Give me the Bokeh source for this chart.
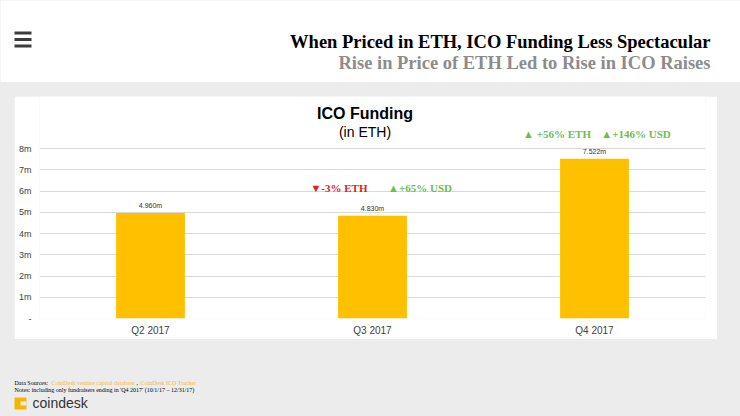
from bokeh.plotting import figure
from bokeh.layouts import column
from bokeh.models import (Range1d, FactorRange, Label, LabelSet, ColumnDataSource, FixedTicker)
from bokeh.core.properties import value
from bokeh.embed import file_html
from bokeh.resources import INLINE

# ---------------- data ----------------
quarters = ["Q2 2017", "Q3 2017", "Q4 2017"]
funding_eth_m = [4.960, 4.830, 7.522]
value_labels = ["4.960m", "4.830m", "7.522m"]
y_ticks = [0, 1, 2, 3, 4, 5, 6, 7, 8]
y_tick_labels = ["-", "1m", "2m", "3m", "4m", "5m", "6m", "7m", "8m"]

title_text = "When Priced in ETH, ICO Funding Less Spectacular"
subtitle_text = "Rise in Price of ETH Led to Rise in ICO Raises"
chart_title = "ICO Funding"
chart_subtitle = "(in ETH)"
notes_text = "Notes: including only fundraisers ending in 'Q4 2017' (10/1/17 \u2013 12/31/17)"

SERIF = "Liberation Serif"
SANS = "Liberation Sans"
GREY = "#ececec"

W, H = 740, 416
HEADER_H = 82
PANEL_L, PANEL_T, PANEL_R, PANEL_B = 14, 96, 717, 339
FOOT_H = H - PANEL_B
FL, FR, FB = 39, 705, 318          # chart frame left / right / bottom (page px)
PX_PER_M = 21.25


def plain_fig(w, h, y_top, fill):
    f = figure(width=w, height=h, x_range=Range1d(0, w), y_range=Range1d(y_top + h, y_top),
               x_axis_type=None, y_axis_type=None, output_backend="svg",
               toolbar_location=None, min_border=0, min_border_left=0, min_border_right=0,
               min_border_top=0, min_border_bottom=0, frame_align=False)
    f.grid.visible = False
    f.outline_line_color = None
    f.background_fill_color = fill
    f.border_fill_color = fill
    return f


def text(f, t, x, y, size, color="#000000", font=SANS, style="normal", align="center",
         baseline="middle", units="data"):
    f.add_layout(Label(x=x, y=y, x_units=units, y_units=units, text=t,
                       text_font=font, text_font_size=size, text_color=color,
                       text_font_style=style, text_align=align, text_baseline=baseline))


# ---------------- header ----------------
header = plain_fig(W, HEADER_H, 0, "white")
header.quad(left=[14, 14, 14], right=[31, 31, 31], top=[31, 37.5, 44], bottom=[34, 40.5, 47],
            fill_color="#3c3c3c", line_color=None)
text(header, title_text, 710, 41, "18.5px", "#000000", SERIF, "bold", "right")
text(header, subtitle_text, 710, 62, "18.5px", "#8c8c8c", SERIF, "bold", "right")

# ---------------- chart panel ----------------
PW, PH = PANEL_R - PANEL_L, PANEL_B - PANEL_T
frame_h = FB - PANEL_T
p = figure(width=PW, height=PH,
           x_range=FactorRange(*quarters, range_padding=0),
           y_range=Range1d(0, frame_h / PX_PER_M),
           output_backend="svg", toolbar_location=None,
           min_border_left=FL - PANEL_L, min_border_top=0,
           min_border_right=PANEL_R - FR, min_border_bottom=PANEL_B - FB,
           margin=(PANEL_T - HEADER_H, W - PANEL_R, 0, PANEL_L), frame_align=False)
p.border_fill_color = "white"
p.background_fill_color = "white"
p.outline_line_color = None

for ax in (p.xaxis, p.yaxis):
    ax.major_tick_line_color = None
    ax.minor_tick_line_color = None
    ax.major_tick_out = 0
    ax.major_tick_in = 0
    ax.minor_tick_out = 0
    ax.minor_tick_in = 0
    ax.axis_line_color = None
    ax.major_label_text_font = SANS
    ax.major_label_text_color = "#404040"

p.xaxis.major_label_text_font_size = "10px"
p.xaxis.major_label_standoff = 6

p.yaxis.ticker = FixedTicker(ticks=y_ticks)
p.yaxis.major_label_overrides = {t: l for t, l in zip(y_ticks, y_tick_labels)}
p.yaxis.major_label_text_font_size = "9px"
p.yaxis.major_label_standoff = 8

p.xgrid.grid_line_color = None
p.ygrid.grid_line_color = "#d9d9d9"
p.ygrid.grid_line_width = 1

src = ColumnDataSource(dict(q=quarters, v=funding_eth_m, lbl=value_labels))
p.vbar(x="q", top="v", width=0.31, source=src, fill_color="#FFC000", line_color=None)
p.add_layout(LabelSet(x="q", y="v", text="lbl", source=src, text_align="center",
                      text_baseline="bottom", y_offset=4, text_font=value(SANS),
                      text_font_size=value("7px"), text_color=value("#333333")))


def ctext(t, rx, ry, size, color="#000000", font=SANS, style="normal"):
    text(p, t, rx - FL, FB - ry, size, color, font, style, units="screen")


ctext(chart_title, 364.5, 113, "16px", "#000000", SANS, "bold")
ctext(chart_subtitle, 364.5, 131, "14px", "#000000", SANS)
ctext("\u25bc-3% ETH", 338.5, 187, "11px", "#e0201b", SERIF, "bold")
ctext("\u25b2+65% USD", 419.5, 187, "11px", "#6cbf4a", SERIF, "bold")
ctext("\u25b2 +56% ETH", 556.5, 133, "11px", "#6cbf4a", SERIF, "bold")
ctext("\u25b2+146% USD", 635.5, 133, "11px", "#6cbf4a", SERIF, "bold")

# ---------------- footer ----------------
footer = plain_fig(W, FOOT_H, PANEL_B, GREY)
text(footer, "Data Sources: ", 14, 382, "6px", "#000000", SERIF, align="left")
text(footer, "CoinDesk venture capital database", 51, 382, "6px", "#f5b841", SERIF, align="left")
text(footer, ",", 136, 382, "6px", "#000000", SERIF, align="left")
text(footer, "CoinDesk ICO Tracker", 140, 382, "6px", "#f5b841", SERIF, align="left")
text(footer, notes_text, 14, 389, "6px", "#000000", SERIF, align="left")
footer.quad(left=[14], right=[26], top=[397], bottom=[409], fill_color="#f7b500", line_color=None)
footer.quad(left=[20], right=[26], top=[401], bottom=[405], fill_color=GREY, line_color=None)
text(footer, "coindesk", 32, 402, "14px", "#333333", SANS, align="left")

page = column(header, p, footer, spacing=0, styles={"background-color": GREY})

open("out.html", "w").write(file_html(page, INLINE))
